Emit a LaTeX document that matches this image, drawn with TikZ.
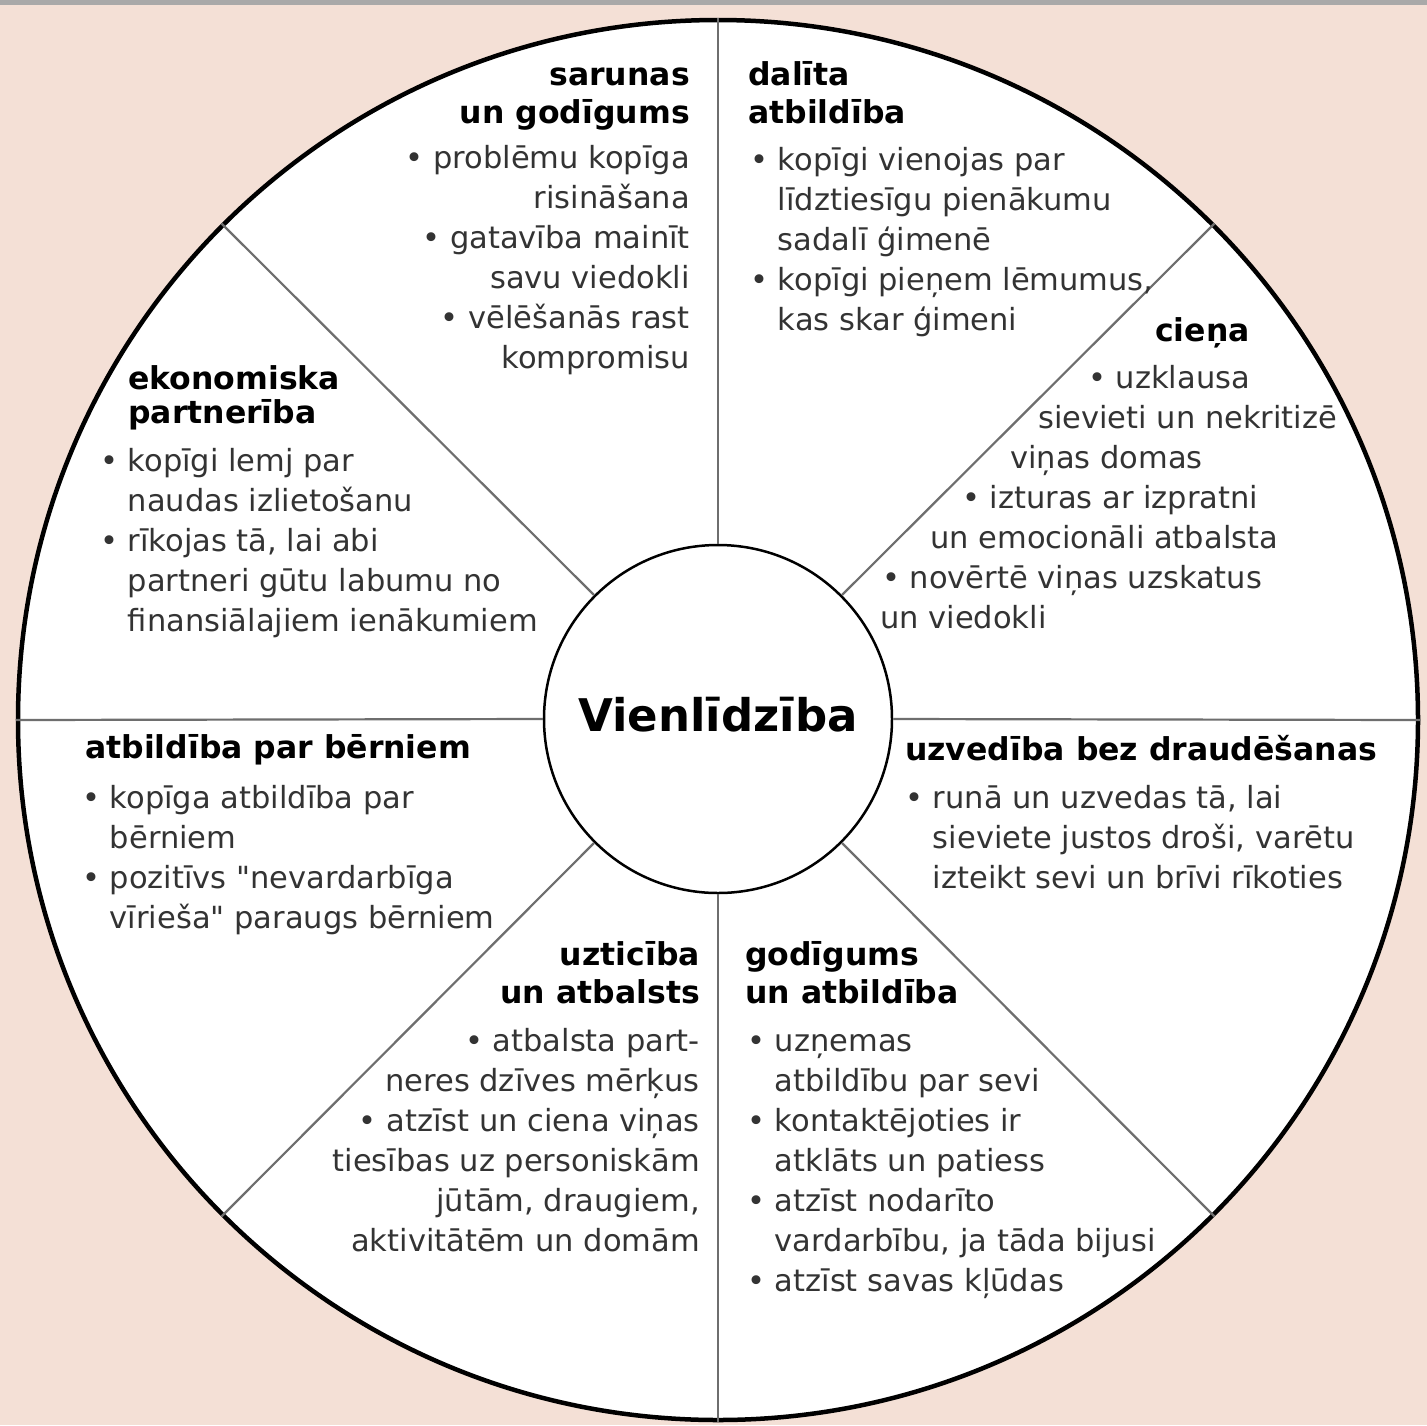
\documentclass[tikz,border=0pt]{standalone}
\usepackage{fontspec}
\setmainfont{DejaVu Sans}
\definecolor{bg}{HTML}{F4E0D6}
\definecolor{bar}{HTML}{A9A9A9}
\definecolor{txt}{HTML}{333333}
\definecolor{divl}{HTML}{6E6E6E}
\newcommand\bu{•\ }
\newcommand\ind{\hphantom{•\ }}
\begin{document}
\begin{tikzpicture}[x=1pt,y=-1pt,
  head/.style={font=\bfseries\fontsize{31.5}{38}\selectfont, inner sep=0pt, text=black},
  body/.style={font=\fontsize{30.5}{40}\selectfont, inner sep=0pt, text=txt},
  divider/.style={draw=divl, line width=2.2pt}]
\fill[bg] (0,0) rectangle (1427,1425);
\fill[bar] (0,0) rectangle (1427,5);
\useasboundingbox (0,0) rectangle (1427,1425);
\node[circle, draw=black, fill=white, line width=4.5pt, minimum size=1400pt, inner sep=0pt] (outer) at (718,720) {};
\node[circle, draw=black, fill=white, line width=2.5pt, minimum size=348pt, inner sep=0pt] (inner) at (718,719) {};
\foreach \a in {0,45,...,315} \draw[divider] (inner.\a) -- (outer.\a);
\node[inner sep=0pt, anchor=base, font=\bfseries\fontsize{45}{50}\selectfont] (title) at (718,731) {Vienlīdzība};

% sarunas un godigums (anchors at last baseline)
\node[head, align=right, anchor=base east] (h1) at (690,123) {sarunas\\un godīgums};
\node[body, align=right, anchor=base east] (b1) at (690,368) {\bu problēmu kopīga\\risināšana\\\bu gatavība mainīt\\savu viedokli\\\bu vēlēšanās rast\\kompromisu};

% dalita atbildiba
\node[head, align=left, anchor=base west] (h2) at (748,123) {dalīta\\atbildība};
\node[body, align=left, anchor=base west] (b2) at (750,330) {\bu kopīgi vienojas par\\\ind līdztiesīgu pienākumu\\\ind sadalī ģimenē\\\bu kopīgi pieņem lēmumus,\\\ind kas skar ģimeni};

% ciena
\node[head, anchor=base west] (h3) at (1155,341) {cieņa};
\node[body, align=left, anchor=base west] (b3) at (880,628) {\hspace*{208pt}\bu uzklausa\\\hspace*{158pt}sievieti un nekritizē\\\hspace*{130pt}viņas domas\\\hspace*{82pt}\bu izturas ar izpratni\\\hspace*{50pt}un emocionāli atbalsta\\\hspace*{2pt}\bu novērtē viņas uzskatus\\un viedokli};

% ekonomiska partneriba
\node[head, align=left, anchor=base west, font=\bfseries\fontsize{31.5}{34}\selectfont] (h4) at (128,423) {ekonomiska\\partnerība};
\node[body, align=left, anchor=base west] (b4) at (100,631) {\bu kopīgi lemj par\\\ind naudas izlietošanu\\\bu rīkojas tā, lai abi\\\ind partneri gūtu labumu no\\\ind finansiālajiem ienākumiem};

% atbildiba par berniem
\node[head, anchor=base west] (h5) at (85,758) {atbildība par bērniem};
\node[body, align=left, anchor=base west] (b5) at (82,928) {\bu kopīga atbildība par\\\ind bērniem\\\bu pozitīvs \textquotedbl nevardarbīga\\\ind vīrieša\textquotedbl{} paraugs bērniem};

% uzvediba bez draudesanas
\node[head, anchor=base west] (h6) at (905,760) {uzvedība bez draudēšanas};
\node[body, align=left, anchor=base west] (b6) at (905,888) {\bu runā un uzvedas tā, lai\\\ind sieviete justos droši, varētu\\\ind izteikt sevi un brīvi rīkoties};

% uzticiba un atbalsts
\node[head, align=right, anchor=base east] (h7) at (700,1003) {uzticība\\un atbalsts};
\node[body, align=right, anchor=base east] (b7) at (700,1251) {\bu atbalsta part-\\neres dzīves mērķus\\\bu atzīst un ciena viņas\\tiesības uz personiskām\\jūtām, draugiem,\\aktivitātēm un domām};

% godigums un atbildiba
\node[head, align=left, anchor=base west] (h8) at (745,1003) {godīgums\\un atbildība};
\node[body, align=left, anchor=base west] (b8) at (747,1291) {\bu uzņemas\\\ind atbildību par sevi\\\bu kontaktējoties ir\\\ind atklāts un patiess\\\bu atzīst nodarīto\\\ind vardarbību, ja tāda bijusi\\\bu atzīst savas kļūdas};
\end{tikzpicture}
\end{document}
